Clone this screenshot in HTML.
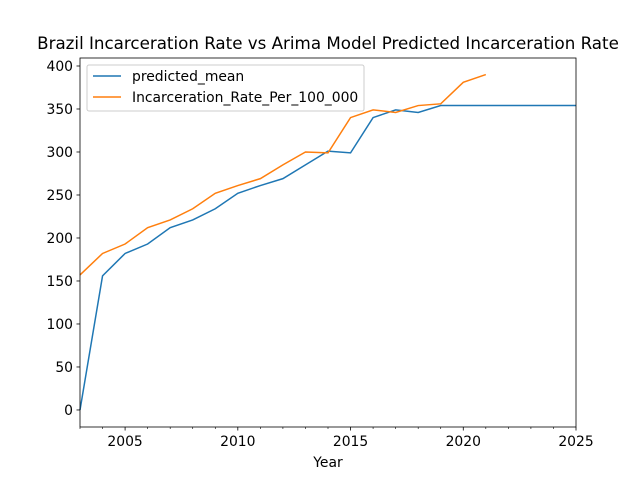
<!DOCTYPE html>
<html><head><meta charset="utf-8"><style>body{margin:0;background:#fff}svg text{font-family:"DejaVu Sans","Liberation Sans",sans-serif}</style></head>
<body>
<svg id="c" width="640" height="480" xmlns="http://www.w3.org/2000/svg"></svg>
<script>
const predYears=[2003,2004,2005,2006,2007,2008,2009,2010,2011,2012,2013,2014,2015,2016,2017,2018,2019,2020,2021,2022,2023,2024,2025];
const predVals=[0,156,182,193,212,221,234,252,261,269,285,301,299,340,349,346,354,354,354,354,354,354,354];
const actYears=[2003,2004,2005,2006,2007,2008,2009,2010,2011,2012,2013,2014,2015,2016,2017,2018,2019,2020,2021];
const actVals=[157,182,193,212,221,234,252,261,269,285,300,299,340,349,346,354,356,381,390];
const xTicks=[2005,2010,2015,2020,2025];
const yTicks=[0,50,100,150,200,250,300,350,400];
const L=80,R=576,T=58,B=427,x0=2003,x1=2025,y0=-19.8,y1=409.3;
const X=v=>L+(v-x0)/(x1-x0)*(R-L), Y=v=>B-(v-y0)/(y1-y0)*(B-T);
const s=document.getElementById('c');const NS='http://www.w3.org/2000/svg';
function el(t,a,txt){const e=document.createElementNS(NS,t);for(const k in a)e.setAttribute(k,a[k]);if(txt!==undefined)e.textContent=txt;s.appendChild(e);return e;}
function line(ys,vs,c,n){const e=el('polyline',{points:ys.map((y,i)=>X(y)+','+Y(vs[i])).join(' '),fill:'none',stroke:c,'stroke-width':1.5});

}
line(predYears,predVals,'#1f77b4','predicted-mean-line');
line(actYears,actVals,'#ff7f0e','incarceration-rate-line');
const fr=el('rect',{x:L,y:T,width:R-L,height:B-T,fill:'none',stroke:'#000','stroke-width':0.8});


for(let yr=2003;yr<=2025;yr++){if(!xTicks.includes(yr))el('line',{x1:X(yr),x2:X(yr),y1:B,y2:B+2,stroke:'#000','stroke-width':0.6});}
xTicks.forEach(t=>{el('line',{x1:X(t),x2:X(t),y1:B,y2:B+3.5,stroke:'#000','stroke-width':0.8});
const tx=el('text',{x:X(t),y:B+19,'font-size':13.9,'text-anchor':'middle'},t);

});
yTicks.forEach(t=>{el('line',{x1:L,x2:L-3.5,y1:Y(t),y2:Y(t),stroke:'#000','stroke-width':0.8});
const tx=el('text',{x:L-7,y:Y(t)+5,'font-size':13.9,'text-anchor':'end'},t);

});
</script>
<svg width="640" height="480" style="position:absolute;left:0;top:0" xmlns="http://www.w3.org/2000/svg">
<text x="328" y="49" font-size="16.7" text-anchor="middle">Brazil Incarceration Rate vs Arima Model Predicted Incarceration Rate</text>
<text x="328" y="467" font-size="13.9" text-anchor="middle">Year</text>
<g>
<rect x="87" y="65" width="277" height="46" rx="2" fill="#fff" fill-opacity="0.8" stroke="#ccc"/>
<line x1="93" x2="121" y1="76" y2="76" stroke="#1f77b4" stroke-width="1.5"/>
<text x="132" y="81" font-size="13.9">predicted_mean</text>
<line x1="93" x2="121" y1="97" y2="97" stroke="#ff7f0e" stroke-width="1.5"/>
<text x="132" y="102" font-size="13.9">Incarceration_Rate_Per_100_000</text>
</g>
</svg>
</body></html>
